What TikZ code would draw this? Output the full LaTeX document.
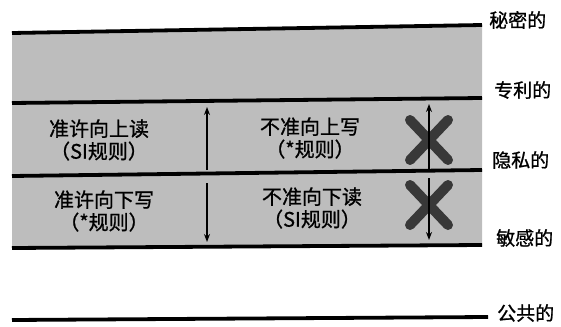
\documentclass[tikz,border=0pt]{standalone}
\usepackage{fontspec}
\usetikzlibrary{arrows.meta}
\newfontfamily\cjk[FakeBold=1]{Noto Sans CJK SC}
\begin{document}
\begin{tikzpicture}[x=1pt,y=-1pt,
  level/.style={line width=3.8pt,black},
  lvlabel/.style={anchor=west,font=\cjk\fontsize{19}{20}\selectfont,inner sep=0pt},
  rule/.style={font=\cjk\fontsize{20}{22.5}\selectfont,align=center,inner sep=1pt},
  flow/.style={line width=1.3pt,-{Stealth[length=8pt,width=6pt]}},
  cross/.style={line width=10pt,line cap=round,black!78}]
\useasboundingbox (0,0) rectangle (561,326);
\fill[black!26] (12,33) -- (482,25) -- (482,245) -- (12,248) -- cycle;
% levels
\coordinate (l1a) at (12,33);  \coordinate (l1b) at (482,25);
\coordinate (l2a) at (12,103); \coordinate (l2b) at (482,98);
\coordinate (l3a) at (12,176); \coordinate (l3b) at (482,170);
\coordinate (l4a) at (12,248); \coordinate (l4b) at (482,245);
\coordinate (l5a) at (12,320); \coordinate (l5b) at (488,317);
\draw[level] (l1a) -- (l1b);
\draw[level] (l2a) -- (l2b);
\draw[level] (l3a) -- (l3b);
\draw[level] (l4a) -- (l4b);
\draw[level] (l5a) -- (l5b);
\node[lvlabel] (n1) at (489,20) {秘密的};
\node[lvlabel] (n2) at (494,90) {专利的};
\node[lvlabel] (n3) at (492,160) {隐私的};
\node[lvlabel] (n4) at (496,238) {敏感的};
\node[lvlabel] (n5) at (497,313) {公共的};
% texts
\node[rule] (t1) at (99,140) {准许向上读\\（SI规则）};
\node[rule] (t2) at (310,138) {不准向上写\\（*规则）};
\node[rule] (t3) at (104,211) {准许向下写\\（*规则）};
\node[rule] (t4) at (312,208) {不准向下读\\（SI规则）};
% arrows
\coordinate (a1s) at (207,170); \coordinate (a1e) at (207,107);
\coordinate (a2s) at (207,183); \coordinate (a2e) at (207,242);
\draw[flow] (a1s) -- (a1e);
\draw[flow] (a2s) -- (a2e);
% crosses
\draw[cross] (410,120) -- (448,160);
\draw[cross] (448,120) -- (410,160);
\draw[cross] (410,185) -- (448,225);
\draw[cross] (448,185) -- (410,225);
\coordinate (b1s) at (429,170); \coordinate (b1e) at (429,104);
\coordinate (b2s) at (429,178); \coordinate (b2e) at (429,240);
\draw[flow] (b1s) -- (b1e);
\draw[flow] (b2s) -- (b2e);
\end{tikzpicture}
\end{document}
